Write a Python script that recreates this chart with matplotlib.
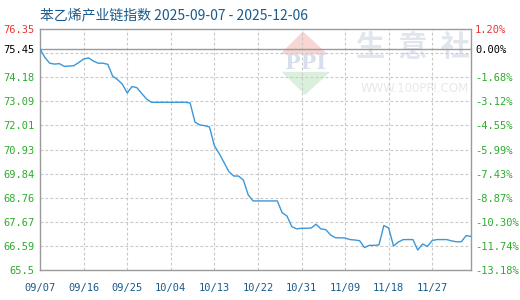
import matplotlib
matplotlib.use("Agg")
import matplotlib.pyplot as plt
from matplotlib.patches import Polygon
import pandas as pd

# ---- data ----
start_date = "2025-09-07"
values = [
    75.45, 75.07, 74.81, 74.77, 74.79, 74.67, 74.68, 74.70, 74.84, 75.00,
    75.05, 74.91, 74.81, 74.81, 74.76, 74.23, 74.07, 73.87, 73.47, 73.76,
    73.71, 73.45, 73.20, 73.05, 73.05, 73.05, 73.05, 73.05, 73.05, 73.05,
    73.05, 73.02, 72.16, 72.03, 72.00, 71.94, 71.10, 70.74, 70.34, 69.93,
    69.73, 69.73, 69.55, 68.88, 68.61, 68.61, 68.61, 68.61, 68.61, 68.61,
    68.08, 67.93, 67.45, 67.35, 67.38, 67.38, 67.39, 67.56, 67.35, 67.32,
    67.08, 66.95, 66.95, 66.94, 66.87, 66.85, 66.82, 66.51, 66.61, 66.61,
    66.63, 67.50, 67.39, 66.58, 66.76, 66.87, 66.87, 66.87, 66.40, 66.67,
    66.56, 66.83, 66.87, 66.87, 66.87, 66.81, 66.77, 66.77, 67.05, 67.01,
]
dates = pd.date_range(start_date, periods=len(values), freq="D")

base_value = 75.45
y_min, y_max = 65.5, 76.35
grid_values = [66.585, 67.67, 68.755, 69.84, 70.925, 72.01, 73.095, 74.18, 75.265]
left_tick_values = [76.35, 75.45, 74.18, 73.095, 72.01, 70.925, 69.84, 68.755, 67.67, 66.585, 65.5]
left_tick_labels = ["76.35", "75.45", "74.18", "73.09", "72.01", "70.93", "69.84", "68.76", "67.67", "66.59", "65.5"]
right_tick_labels = ["1.20%", "0.00%", "-1.68%", "-3.12%", "-4.55%", "-5.99%", "-7.43%", "-8.87%", "-10.30%", "-11.74%", "-13.18%"]
x_tick_dates = pd.date_range(start_date, periods=10, freq="9D")
x_tick_labels = [d.strftime("%m/%d") for d in x_tick_dates]
title = "苯乙烯产业链指数 2025-09-07 - 2025-12-06"

# ---- style ----
GREEN = "#2eaa2e"
RED = "#ee3333"
BLUE_TXT = "#1a5a8c"
LINE = "#3a98d8"
GRID = "#c8c8c8"
SPINE = "#9a9a9a"
mono = ["DejaVu Sans Mono"]

fig = plt.figure(figsize=(5.2, 3.0), dpi=100)
ax = fig.add_axes([40 / 520, 30 / 300, 431 / 520, 241 / 300])

# watermark
wm = "#e0e5ee"
ax.text(0.865, 0.925, "生  意  社", transform=ax.transAxes, ha="center", va="center",
        fontsize=21, color=wm, family=["Noto Sans CJK SC"], fontweight="bold", zorder=0)
ax.text(0.87, 0.755, "WWW.100PPI.COM", transform=ax.transAxes, ha="center", va="center",
        fontsize=8.5, color="#e8e8e8", family=["DejaVu Sans"], zorder=0)
ax.add_patch(Polygon([(0.557, 0.895), (0.668, 0.895), (0.61, 0.99)], closed=True,
                     transform=ax.transAxes, facecolor="#f7d6d3", edgecolor="none", zorder=0))
ax.add_patch(Polygon([(0.561, 0.822), (0.673, 0.822), (0.615, 0.726)], closed=True,
                     transform=ax.transAxes, facecolor="#daf0dd", edgecolor="none", zorder=0))
ax.text(0.615, 0.857, "PPI", transform=ax.transAxes, ha="center", va="center",
        fontsize=15, color="#d8deeb", family=["DejaVu Serif"], fontweight="bold", zorder=0)

# grid
for gv in grid_values:
    ax.axhline(gv, color=GRID, lw=0.8, ls=(0, (2.5, 2)), zorder=1)
for xd in x_tick_dates[1:]:
    ax.axvline(xd, color=GRID, lw=0.8, ls=(0, (2.5, 2)), zorder=1)
ax.axhline(base_value, color=SPINE, lw=1.0, zorder=2)

ax.plot(dates, values, color=LINE, lw=1.0, zorder=3)

ax.set_xlim(dates[0], dates[-1])
ax.set_ylim(y_min, y_max)

for side, sp in ax.spines.items():
    sp.set_color(SPINE)
    sp.set_linewidth(1.0)

ax.set_yticks(left_tick_values)
ax.set_yticklabels(left_tick_labels, family=mono, fontsize=7.5)
for lbl in ax.get_yticklabels():
    lbl.set_color(GREEN)
ax.get_yticklabels()[0].set_color(RED)
ax.get_yticklabels()[1].set_color("black")
ax.tick_params(axis="y", length=0, pad=4)

ax.set_xticks(x_tick_dates)
ax.set_xticklabels(x_tick_labels, family=mono, fontsize=7.5, color=BLUE_TXT)
ax.tick_params(axis="x", length=0, pad=9)

ax2 = ax.twinx()
ax2.set_ylim(y_min, y_max)
ax2.set_yticks(left_tick_values)
ax2.set_yticklabels(right_tick_labels, family=mono, fontsize=7.5)
for lbl in ax2.get_yticklabels():
    lbl.set_color(GREEN)
ax2.get_yticklabels()[0].set_color(RED)
ax2.get_yticklabels()[1].set_color("black")
ax2.tick_params(axis="y", length=0, pad=3)
for sp in ax2.spines.values():
    sp.set_visible(False)

fig.text(40 / 520, 1 - 15 / 300, title, ha="left", va="center", fontsize=10,
         color=BLUE_TXT, family=["Noto Sans CJK SC", "DejaVu Sans"])

fig.savefig("out.png", dpi=100)
